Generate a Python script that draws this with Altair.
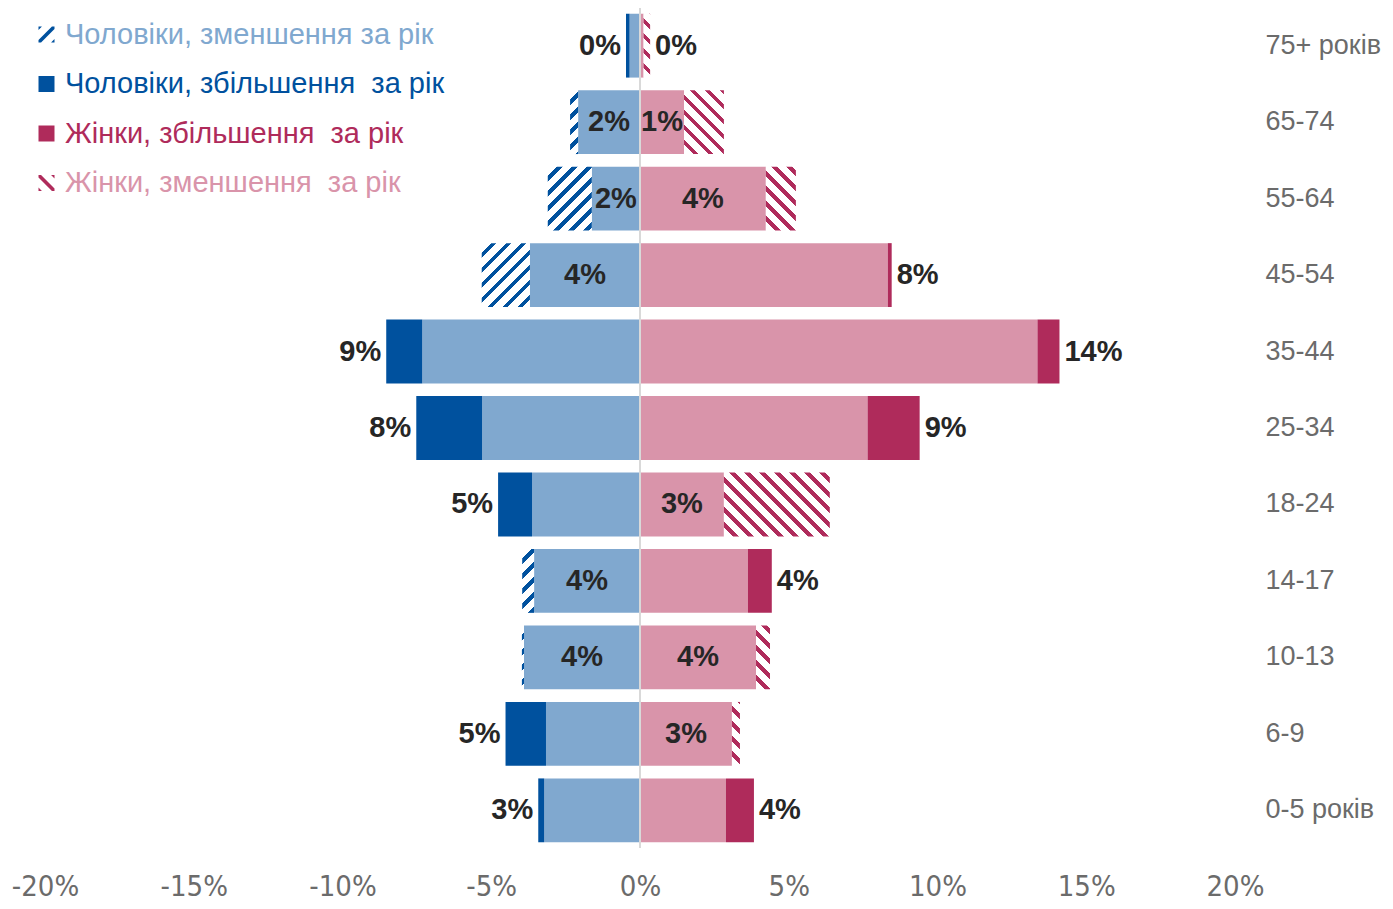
import altair as alt
import pandas as pd

# ---------------- data ----------------
ages = ["75+ років", "65-74", "55-64", "45-54", "35-44", "25-34",
        "18-24", "14-17", "10-13", "6-9", "0-5 років"]
men_prev = [0.35, 2.35, 3.10, 5.32, 7.32, 5.31, 3.63, 3.96, 3.97, 3.16, 3.22]
men_now = [0.47, 2.08, 1.62, 3.70, 8.53, 7.52, 4.77, 3.56, 3.90, 4.52, 3.42]
women_prev = [0.34, 2.82, 5.24, 8.33, 13.36, 7.65, 6.38, 3.63, 4.37, 3.36, 2.89]
women_now = [0.12, 1.48, 4.23, 8.46, 14.10, 9.40, 2.82, 4.43, 3.90, 3.09, 3.83]
series = ["Чоловіки, зменшення за рік", "Чоловіки, збільшення  за рік",
          "Жінки, збільшення  за рік", "Жінки, зменшення  за рік"]
x_ticks = [-20, -15, -10, -5, 0, 5, 10, 15, 20]

# ---------------- style ----------------
LB, DB, PK, CR = "#80A8CF", "#00519E", "#D994AA", "#AF2B5B"
W, H = 1190, 840
P_IN, P_OUT = 0.165, 0.075
FONT = "Liberation Sans"
NARROW = "Liberation Sans Narrow, DejaVu Sans Condensed, Arial Narrow, sans-serif"

rows = []
for i, a in enumerate(ages):
    rows.append({"age": a, "sex": "m", "now": men_now[i], "prev": men_prev[i], "key": a + "|m"})
    rows.append({"age": a, "sex": "f", "now": women_now[i], "prev": women_prev[i], "key": a + "|f"})
df = pd.DataFrame(rows)

step = H / (len(ages) - P_IN + 2 * P_OUT)
BAND_H = step * (1 - P_IN)
PX = W / 40.0


def hatch(w, h, color, forward):
    k = 1.3
    L = w * w + h * h
    dt = 15.0 * h / (k * L)
    stops = []
    t = 0.0
    while t < 1.0:
        b = min(t + 0.62 * dt, 1.0)
        c = min(t + dt, 1.0)
        stops += [{"offset": round(t, 5), "color": "#FFFFFF"},
                  {"offset": round(b, 5), "color": "#FFFFFF"},
                  {"offset": round(b, 5), "color": color},
                  {"offset": round(c, 5), "color": color}]
        t += dt
    g = {"gradient": "linear", "stops": stops, "x1": 0}
    if forward:
        g.update({"y1": 0, "x2": round(k * w / h, 5), "y2": k})
    else:
        g.update({"y1": 1, "x2": round(k * w / h, 5), "y2": round(1 - k, 5)})
    return g


base = alt.Chart(df).transform_calculate(
    z="0",
    lo="min(datum.now, datum.prev) * (datum.sex == 'm' ? -1 : 1)",
    s_now="datum.now * (datum.sex == 'm' ? -1 : 1)",
    s_prev="datum.prev * (datum.sex == 'm' ? -1 : 1)",
    lab="format(datum.now / 100, '.0%')",
)

xscale = alt.Scale(domain=[-20, 20], nice=False)
xaxis = alt.Axis(values=x_ticks, labelExpr="datum.value + '%'", grid=False, ticks=False,
                 domain=False, labelFontSize=29, labelColor="#6B6B6B", labelPadding=24,
                 title=None, labelFont=NARROW, labelFlush=False)
y_enc = alt.Y("age:N", sort=ages, title=None,
              scale=alt.Scale(paddingInner=P_IN, paddingOuter=P_OUT),
              axis=alt.Axis(orient="right", ticks=False, domain=False, labelAlign="left",
                            labelPadding=30, labelFontSize=27, labelColor="#6B6B6B",
                            labelFont=FONT, labelLimit=300))

light = base.mark_bar().encode(
    x=alt.X("z:Q", scale=xscale, axis=xaxis), x2="lo:Q", y=y_enc,
    fill=alt.condition("datum.sex == 'm'", alt.value(LB), alt.value(PK)),
)
dark = base.transform_filter("datum.now > datum.prev").mark_bar().encode(
    x=alt.X("s_prev:Q", scale=xscale, axis=xaxis), x2="s_now:Q", y=y_enc,
    fill=alt.condition("datum.sex == 'm'", alt.value(DB), alt.value(CR)),
)

layers = [light, dark]
for r in rows:
    if r["now"] < r["prev"]:
        w = (r["prev"] - r["now"]) * PX
        g = hatch(w, BAND_H, DB if r["sex"] == "m" else CR, r["sex"] == "m")
        layers.append(
            base.transform_filter(alt.FieldEqualPredicate(field="key", equal=r["key"]))
            .mark_bar(fill=g)
            .encode(x=alt.X("s_now:Q", scale=xscale, axis=xaxis), x2="s_prev:Q", y=y_enc)
        )

center = alt.Chart(pd.DataFrame({"z": [0]})).mark_rule(color="#D9D9D9", strokeWidth=2).encode(
    x=alt.X("z:Q", scale=xscale, axis=xaxis))
layers.append(center)

tstyle = dict(fontSize=29, fontWeight="bold", font=FONT, color="#262626", baseline="middle")
outside = "datum.now > datum.prev || datum.now < 1"
lab_m_out = base.transform_filter(f"datum.sex == 'm' && ({outside})").transform_calculate(
    pos="-max(datum.now, datum.prev)").mark_text(align="right", dx=-5, **tstyle).encode(
    x=alt.X("pos:Q", scale=xscale, axis=xaxis), y=y_enc, text="lab:N")
lab_f_out = base.transform_filter(f"datum.sex == 'f' && ({outside})").transform_calculate(
    pos="max(datum.now, datum.prev)").mark_text(align="left", dx=5, **tstyle).encode(
    x=alt.X("pos:Q", scale=xscale, axis=xaxis), y=y_enc, text="lab:N")
lab_in = base.transform_filter(f"!({outside})").transform_calculate(
    pos="datum.s_now / 2").mark_text(align="center", **tstyle).encode(
    x=alt.X("pos:Q", scale=xscale, axis=xaxis), y=y_enc, text="lab:N")
layers += [lab_m_out, lab_f_out, lab_in]

# legend (symbols via custom shapes)
p_fwd = ("M-1,0.68L0.68,-1L1,-1L1,-0.68L-0.68,1L-1,1Z "
         "M0.57,1L1,0.57L1,1Z M-1,-0.57L-0.57,-1L-1,-1Z")
p_back = ("M-1,-0.68L0.68,1L1,1L1,0.68L-0.68,-1L-1,-1Z "
          "M0.57,-1L1,-0.57L1,-1Z M-1,0.57L-0.57,1L-1,1Z")
lab_colors = [LB, DB, CR, PK]
expr = " : ".join(f"datum.value == '{s}' ? '{c}'" for s, c in zip(series[:3], lab_colors[:3])) + f" : '{lab_colors[3]}'"
leg = alt.Legend(title=None, orient="none", legendX=-13, legendY=12, symbolSize=256,
                 symbolStrokeWidth=0, labelFontSize=29, labelFont=FONT, labelOffset=4,
                 rowPadding=19.5, labelColor={"expr": expr}, symbolOpacity=1, labelLimit=600,
                 labelExpr="replace(datum.label, '  ', ' \u00a0')")
legend_layer = alt.Chart(pd.DataFrame({"series": series})).transform_filter("false").mark_point(
    filled=True).encode(
    x=alt.value(0), y=alt.value(0),
    color=alt.Color("series:N", scale=alt.Scale(domain=series, range=[DB, DB, CR, CR]), legend=leg),
    shape=alt.Shape("series:N", scale=alt.Scale(domain=series, range=[p_fwd, "square", "square", p_back]), legend=leg),
)
layers.append(legend_layer)

chart = alt.layer(*layers).properties(
    width=W, height=H, autosize="none",
    padding={"left": 37, "top": 0, "right": 150, "bottom": 53},
).configure_view(stroke=None)

chart.save("out.html", embed_options={"renderer": "svg", "actions": False})
